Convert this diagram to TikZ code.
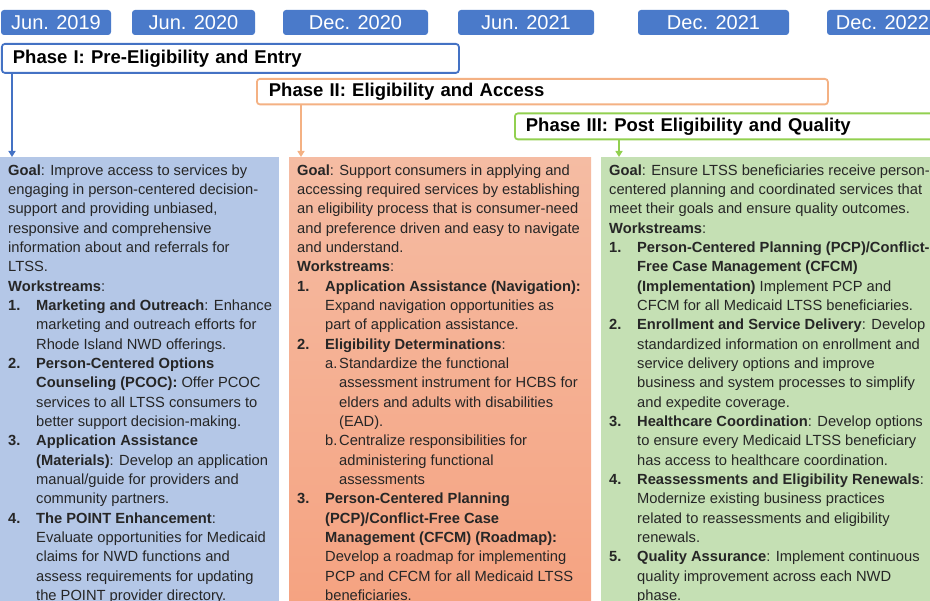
\documentclass[tikz,border=0pt]{standalone}
\usepackage{fontspec}
\setmainfont{Liberation Sans}
\usepackage{tikz}
\usetikzlibrary{positioning, shapes, arrows.meta, calc}

\definecolor{datebl}{RGB}{74,122,202}
\definecolor{phblue}{RGB}{68,114,196}
\definecolor{phorange}{RGB}{244,177,131}
\definecolor{phgreen}{RGB}{146,208,80}
\definecolor{colblue}{RGB}{180,199,231}
\definecolor{coltop}{RGB}{245,188,163}
\definecolor{colbot}{RGB}{245,162,128}
\definecolor{colgreen}{RGB}{197,224,180}
\definecolor{txt}{RGB}{38,38,38}

% list helpers
\newcommand{\wsnum}[1]{\makebox[28pt][l]{\textbf{#1}}}
\newcommand{\wsind}{\hspace*{28pt}}
\newcommand{\wssub}[1]{\hspace*{28pt}\makebox[14pt][l]{#1}}
\newcommand{\wssubind}{\hspace*{42pt}}

\begin{document}
\begin{tikzpicture}[x=1pt, y=-1pt,
  datebox/.style={fill=datebl, rounded corners=3pt, text=white, minimum height=25pt, inner sep=0pt, font=\fontsize{20}{24}\selectfont},
  phasebox/.style={draw, line width=1.8pt, rounded corners=3pt, fill=white, anchor=north west, inner ysep=0pt, align=left, text=black, font=\bfseries\fontsize{18.5}{22}\selectfont},
  colbox/.style={anchor=north west, inner sep=0pt},
  coltext/.style={anchor=north west, inner sep=0pt, align=left, text=txt, font=\fontsize{14.7}{19.33}\selectfont},
  arr/.style={line width=1.5pt, -{Triangle[width=7pt,length=6pt]}}]
  \useasboundingbox (0,0) rectangle (930,601);
  \clip (0,0) rectangle (930,601);

  % timeline
  \node[datebox, minimum width=110pt] (d1) at (56,22.5) {Jun. 2019};
  \node[datebox, minimum width=123pt] (d2) at (193.5,22.5) {Jun. 2020};
  \node[datebox, minimum width=145pt] (d3) at (355.5,22.5) {Dec. 2020};
  \node[datebox, minimum width=136pt] (d4) at (526,22.5) {Jun. 2021};
  \node[datebox, minimum width=151pt] (d5) at (713.5,22.5) {Dec. 2021};
  \node[datebox, minimum width=111pt] (d6) at (882.5,22.5) {Dec. 2022};

  % phases
  \node[phasebox, draw=phblue, inner xsep=11pt, text width=435pt, minimum height=29pt] (phI) at (1,43) {Phase I: Pre-Eligibility and Entry};
  \node[phasebox, draw=phorange, inner xsep=12pt, text width=547pt, minimum height=25.5pt] (phII) at (256,78) {Phase II: Eligibility and Access};
  \node[phasebox, draw=phgreen, inner xsep=11pt, text width=409pt, minimum height=26pt] (phIII) at (514,112.5) {Phase III: Post Eligibility and Quality};

  % columns
  \node[colbox, fill=colblue, minimum width=279pt, minimum height=460pt] (colI) at (0,157) {};
  \node[colbox, top color=coltop, bottom color=colbot, minimum width=302pt, minimum height=460pt] (colII) at (289,157) {};
  \node[colbox, fill=colgreen, minimum width=340pt, minimum height=460pt] (colIII) at (601,157) {};

  \draw[arr, phblue] ([xshift=11pt]phI.south west) -- ([xshift=11pt]phI.south west |- colI.north);
  \draw[arr, phorange] ([xshift=45pt]phII.south west) -- ([xshift=45pt]phII.south west |- colII.north);
  \draw[arr, phgreen] ([xshift=105pt]phIII.south west) -- ([xshift=105pt]phIII.south west |- colIII.north);

  \node[coltext] (txtI) at ($(colI.north west)+(8,4.5)$) {\strut\textbf{Goal}: Improve access to services by\\
engaging in person-centered decision-\\
support and providing unbiased,\\
responsive and comprehensive\\
information about and referrals for\\
LTSS.\\
\textbf{Workstreams}:\\
\wsnum{1.}\textbf{Marketing and Outreach}: Enhance\\
\wsind marketing and outreach efforts for\\
\wsind Rhode Island NWD offerings.\\
\wsnum{2.}\textbf{Person-Centered Options}\\
\wsind\textbf{Counseling (PCOC):} Offer PCOC\\
\wsind services to all LTSS consumers to\\
\wsind better support decision-making.\\
\wsnum{3.}\textbf{Application Assistance}\\
\wsind\textbf{(Materials)}: Develop an application\\
\wsind manual/guide for providers and\\
\wsind community partners.\\
\wsnum{4.}\textbf{The POINT Enhancement}:\\
\wsind Evaluate opportunities for Medicaid\\
\wsind claims for NWD functions and\\
\wsind assess requirements for updating\\
\wsind the POINT provider directory.};

  \node[coltext] (txtII) at ($(colII.north west)+(8,4.5)$) {\strut\textbf{Goal}: Support consumers in applying and\\
accessing required services by establishing\\
an eligibility process that is consumer-need\\
and preference driven and easy to navigate\\
and understand.\\
\textbf{Workstreams}:\\
\wsnum{1.}\textbf{Application Assistance (Navigation):}\\
\wsind Expand navigation opportunities as\\
\wsind part of application assistance.\\
\wsnum{2.}\textbf{Eligibility Determinations}:\\
\wssub{a.}Standardize the functional\\
\wssubind assessment instrument for HCBS for\\
\wssubind elders and adults with disabilities\\
\wssubind (EAD).\\
\wssub{b.}Centralize responsibilities for\\
\wssubind administering functional\\
\wssubind assessments\\
\wsnum{3.}\textbf{Person-Centered Planning}\\
\wsind\textbf{(PCP)/Conflict-Free Case}\\
\wsind\textbf{Management (CFCM) (Roadmap):}\\
\wsind Develop a roadmap for implementing\\
\wsind PCP and CFCM for all Medicaid LTSS\\
\wsind beneficiaries.};

  \node[coltext] (txtIII) at ($(colIII.north west)+(8,4.5)$) {\strut\textbf{Goal}: Ensure LTSS beneficiaries receive person-\\
centered planning and coordinated services that\\
meet their goals and ensure quality outcomes.\\
\textbf{Workstreams}:\\
\wsnum{1.}\textbf{Person-Centered Planning (PCP)/Conflict-}\\
\wsind\textbf{Free Case Management (CFCM)}\\
\wsind\textbf{(Implementation)} Implement PCP and\\
\wsind CFCM for all Medicaid LTSS beneficiaries.\\
\wsnum{2.}\textbf{Enrollment and Service Delivery}: Develop\\
\wsind standardized information on enrollment and\\
\wsind service delivery options and improve\\
\wsind business and system processes to simplify\\
\wsind and expedite coverage.\\
\wsnum{3.}\textbf{Healthcare Coordination}: Develop options\\
\wsind to ensure every Medicaid LTSS beneficiary\\
\wsind has access to healthcare coordination.\\
\wsnum{4.}\textbf{Reassessments and Eligibility Renewals}:\\
\wsind Modernize existing business practices\\
\wsind related to reassessments and eligibility\\
\wsind renewals.\\
\wsnum{5.}\textbf{Quality Assurance}: Implement continuous\\
\wsind quality improvement across each NWD\\
\wsind phase.};
\end{tikzpicture}
\end{document}
